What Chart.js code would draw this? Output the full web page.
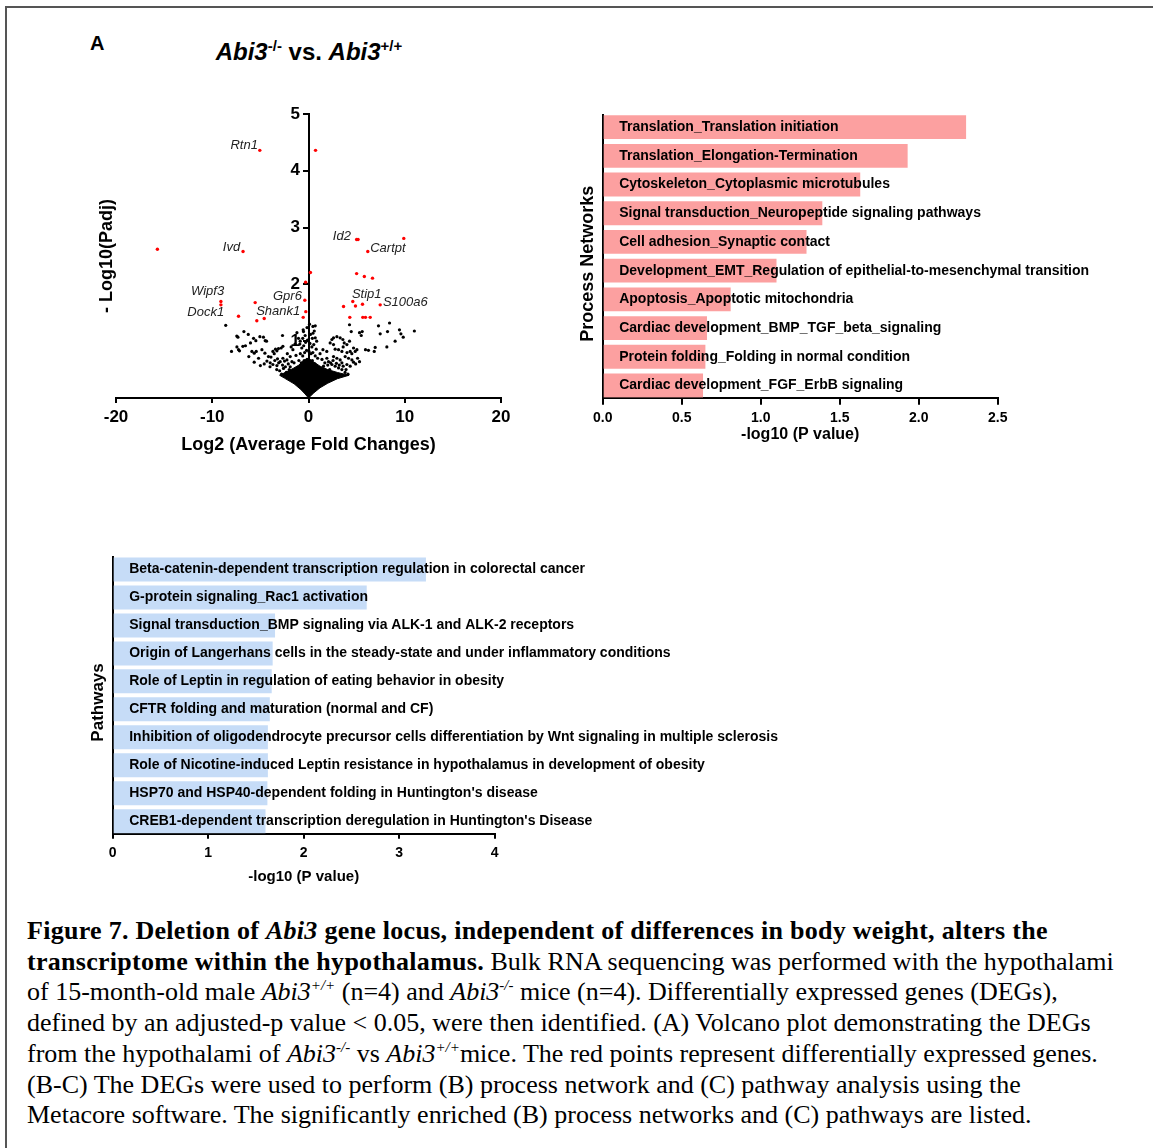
<!DOCTYPE html>
<html>
<head>
<meta charset="utf-8">
<script src="https://cdn.jsdelivr.net/npm/chart.js@4.4.1/dist/chart.umd.min.js"></script>
<style>
  body { margin: 0; background: #fff; }
  #page { position: relative; width: 1153px; height: 1148px; overflow: hidden; background: #fff;
          font-family: Arial, 'Liberation Sans', sans-serif; color: #000; }
  #frame { position: absolute; left: 5px; top: 6px; right: -4px; bottom: -4px;
           border-top: 2px solid #555; border-left: 2px solid #555; }
  .box { position: absolute; }
  #panelA { left: 90px; top: 31px; font-size: 20px; font-weight: bold; line-height: 24px; }
  #volcanoTitle { left: 159px; top: 38px; width: 300px; text-align: center; font-size: 24px;
                  font-weight: bold; line-height: 28px; white-space: nowrap; }
  #volcanoTitle sup { font-size: 15px; line-height: 0; }
  #caption { left: 27px; top: 916px; font-family: 'Liberation Serif', 'Times New Roman', serif;
             font-size: 26px; line-height: 30.7px; white-space: nowrap; }
  #caption b { letter-spacing: 0.28px; }
  #caption sup { font-size: 15px; line-height: 0; }
</style>
</head>
<body>
<div id="page">
  <div id="frame"></div>
  <div class="box" id="panelA">A</div>
  <div class="box" id="volcanoTitle"><i>Abi3</i><sup>-/-</sup> vs. <i>Abi3</i><sup>+/+</sup></div>
  <canvas class="box" id="volcano" width="440" height="380" style="left:80px;top:90px;"></canvas>
  <canvas class="box" id="process" width="570" height="370" style="left:560px;top:90px;"></canvas>
  <canvas class="box" id="pathway" width="720" height="370" style="left:70px;top:530px;"></canvas>
  <div class="box" id="caption"><b>Figure 7. Deletion of <i>Abi3</i> gene locus, independent of differences in body weight, alters the</b><br><b>transcriptome within the hypothalamus.</b> Bulk RNA sequencing was performed with the hypothalami<br>of 15-month-old male <i>Abi3<sup>+/+</sup></i> (n=4) and <i>Abi3<sup>-/-</sup></i> mice (n=4). Differentially expressed genes (DEGs),<br>defined by an adjusted-p value &lt; 0.05, were then identified. (A) Volcano plot demonstrating the DEGs<br>from the hypothalami of <i>Abi3<sup>-/-</sup></i> vs <i>Abi3<sup>+/+</sup></i>mice. The red points represent differentially expressed genes.<br>(B-C) The DEGs were used to perform (B) process network and (C) pathway analysis using the<br>Metacore software. The significantly enriched (B) process networks and (C) pathways are listed.</div>
</div>
<script>
// ---- volcano plot data (log2 fold change, -log10 padj) ----
const volcanoXTicks = [-20, -10, 0, 10, 20];
const volcanoYTicks = [1, 2, 3, 4, 5];

// differentially expressed genes (red)
const degPoints = [
  [-5.06, 4.36], [0.73, 4.36], [-15.7, 2.62], [-6.8, 2.58], [5.0, 2.79], [5.15, 2.79],
  [9.9, 2.81], [6.16, 2.58], [0.2, 2.21], [-0.3, 2.04], [5.0, 2.19], [5.8, 2.14],
  [6.65, 2.11], [-9.1, 1.70], [-9.1, 1.64], [-5.54, 1.68], [-7.27, 1.44], [-5.37, 1.36],
  [-4.6, 1.40], [-0.38, 1.72], [-0.28, 1.52], [-0.55, 1.42], [3.64, 1.61], [4.6, 1.70],
  [4.88, 1.62], [5.61, 1.65], [7.45, 1.64], [4.29, 1.42], [5.64, 1.42], [5.92, 1.42], [6.41, 1.42]
];

// the rest of the genes (black)
const otherPoints = [
  [-8.6, 1.28], [-7.33, 1.07], [-7.45, 1.09], [-6.71, 1.17], [-6.26, 1.12], [-5.71, 1.05],
  [-5.47, 1.01], [-5.05, 1.08], [-4.68, 1.07], [-4.5, 1.01], [-4.36, 1.0], [-2.7, 1.10],
  [-8.0, 0.82], [-7.44, 0.90], [-7.17, 0.83], [-7.27, 0.85], [-6.82, 0.91], [-6.55, 0.92],
  [-6.2, 0.73], [-6.03, 0.97], [-5.88, 0.82], [-5.64, 0.79], [-5.43, 0.82], [-5.64, 0.63],
  [-5.19, 0.70], [-4.84, 0.85], [-4.53, 0.79], [-4.32, 0.65], [-4.16, 0.73], [-3.98, 0.62],
  [-3.70, 0.82], [-3.56, 0.78], [-3.43, 0.86], [-3.28, 0.83], [-3.12, 0.87], [-2.84, 0.88],
  [-2.66, 0.91], [-3.22, 0.69], [-2.94, 0.64], [-2.66, 0.70], [-2.49, 0.65], [-2.24, 0.67],
  [-3.70, 0.59], [-3.28, 0.57], [-1.90, 0.73], [-1.72, 0.64], [-1.62, 0.85], [-1.2, 1.15],
  [-1.04, 1.05], [-0.86, 1.0], [-0.52, 1.17], [-3.0, 0.48], [-2.6, 0.52], [-2.3, 0.45],
  [-1.9, 0.55], [-2.1, 0.6], [-2.8, 0.42], [-1.5, 0.62], [-1.3, 0.75],
  [-3.5, 0.66], [-3.1, 0.62], [-2.7, 0.58], [-2.4, 0.55], [-2.0, 0.5], [-1.7, 0.47],
  [-3.3, 0.5], [-2.2, 0.78], [-1.8, 0.9], [-1.4, 0.95], [-4.0, 0.55], [-4.6, 0.6],
  [-5.0, 0.57], [-3.9, 0.72],
  [4.26, 1.29], [4.44, 1.17], [5.30, 1.15], [5.58, 1.17], [5.48, 1.10], [7.27, 1.27],
  [8.42, 1.32], [7.45, 1.13], [8.21, 1.17], [9.45, 1.20], [9.6, 1.13], [9.84, 1.07],
  [9.0, 1.0], [11.0, 1.18], [8.14, 0.90], [6.93, 0.89], [6.83, 0.82], [5.92, 0.85],
  [6.23, 0.84], [5.30, 0.64], [4.68, 0.88], [4.85, 0.82], [5.03, 0.85], [4.33, 0.82],
  [4.5, 0.78], [3.99, 0.94], [4.26, 1.0], [3.57, 1.03], [3.71, 0.97], [3.29, 1.06],
  [2.95, 1.08], [2.60, 1.06], [2.43, 1.03], [2.25, 0.97], [2.6, 0.94], [2.77, 0.86],
  [3.12, 0.85], [3.47, 0.82], [3.81, 0.73], [4.16, 0.70], [4.51, 0.67], [4.68, 0.63],
  [3.99, 0.59], [4.33, 0.56], [2.6, 0.73], [2.95, 0.70], [3.29, 0.67], [3.47, 0.62],
  [2.43, 0.59], [2.77, 0.56], [3.12, 0.53], [3.47, 0.50], [1.91, 0.70], [2.08, 0.64],
  [1.56, 0.56], [0.46, 1.14], [0.46, 1.26], [0.70, 1.06], [0.70, 1.27], [3.8, 0.45],
  [4.1, 0.42], [2.2, 0.5], [1.8, 0.48],
  [2.3, 0.62], [2.55, 0.66], [2.9, 0.61], [3.2, 0.58], [3.6, 0.56], [3.9, 0.5],
  [2.0, 0.58], [1.7, 0.62], [1.4, 0.68], [1.2, 0.78], [1.5, 0.85], [1.9, 0.82],
  [4.9, 0.6], [5.1, 0.7], [4.0, 0.8], [3.6, 0.9],
  [-0.9, 0.95], [-0.7, 0.88], [-0.5, 0.92], [-0.3, 0.98], [-0.1, 1.02], [0.15, 0.96],
  [0.35, 0.9], [0.55, 0.94], [0.8, 0.86], [-0.85, 0.78], [-0.6, 0.74], [-0.4, 0.8],
  [-0.2, 0.84], [0.05, 0.82], [0.25, 0.78], [0.45, 0.8], [0.7, 0.74], [0.95, 0.7],
  [-1.0, 0.66], [-0.75, 0.62], [-0.45, 0.66], [-0.15, 0.68], [0.1, 0.64], [0.4, 0.66],
  [0.65, 0.6], [-0.35, 1.1], [0.2, 1.12], [-0.6, 1.05], [0.4, 1.05], [-0.15, 1.24],
  [0.1, 1.3], [-0.25, 0.56], [0.3, 0.54], [-0.55, 1.2], [0.85, 1.0], [0.6, 1.18]
];

// outline of the solid mass of overlapping genes near the origin
const coreX = [0, -0.35, -0.8, -1.5, -2.5, -3.0, -2.3, -1.6, -1.0, -0.5, 0, 0.5, 1.2, 2.0, 3.0, 4.2, 3.0, 2.0, 1.2, 0.55, 0];
const coreY = [0, 0.07, 0.15, 0.25, 0.35, 0.40, 0.46, 0.52, 0.58, 0.66, 0.70, 0.64, 0.56, 0.50, 0.45, 0.40, 0.34, 0.26, 0.18, 0.09, 0];

// gene labels, anchored in data space
const geneNames = ['Rtn1', 'Ivd', 'Id2', 'Cartpt', 'Wipf3', 'Dock1', 'Gpr6', 'Shank1', 'Stip1', 'S100a6'];
const geneX = [-5.26, -7.10, 4.41, 6.41, -8.76, -8.76, -0.69, -0.86, 4.51, 7.73];
const geneY = [4.44, 2.66, 2.84, 2.63, 1.875, 1.51, 1.79, 1.53, 1.83, 1.69];
const rightHandLabels = ['Cartpt', 'Stip1', 'S100a6'];

// ---- B: process networks ----
const processNetworks = [
  'Translation_Translation initiation',
  'Translation_Elongation-Termination',
  'Cytoskeleton_Cytoplasmic microtubules',
  'Signal transduction_Neuropeptide signaling pathways',
  'Cell adhesion_Synaptic contact',
  'Development_EMT_Regulation of epithelial-to-mesenchymal transition',
  'Apoptosis_Apoptotic mitochondria',
  'Cardiac development_BMP_TGF_beta_signaling',
  'Protein folding_Folding in normal condition',
  'Cardiac development_FGF_ErbB signaling'
];
const processValues = [2.30, 1.93, 1.63, 1.39, 1.29, 1.10, 0.81, 0.66, 0.65, 0.635];
const processTicks = [0, 0.5, 1.0, 1.5, 2.0, 2.5];

// ---- C: pathways ----
const pathways = [
  'Beta-catenin-dependent transcription regulation in colorectal cancer',
  'G-protein signaling_Rac1 activation',
  'Signal transduction_BMP signaling via ALK-1 and ALK-2 receptors',
  'Origin of Langerhans cells in the steady-state and under inflammatory conditions',
  'Role of Leptin in regulation of eating behavior in obesity',
  'CFTR folding and maturation (normal and CF)',
  'Inhibition of oligodendrocyte precursor cells differentiation by Wnt signaling in multiple sclerosis',
  'Role of Nicotine-induced Leptin resistance in hypothalamus in development of obesity',
  "HSP70 and HSP40-dependent folding in Huntington's disease",
  "CREB1-dependent transcription deregulation in Huntington's Disease"
];
const pathwayValues = [3.28, 2.66, 1.70, 1.675, 1.665, 1.645, 1.625, 1.625, 1.62, 1.60];
const pathwayTicks = [0, 1, 2, 3, 4];

const FONT = "Arial, 'Liberation Sans', sans-serif";
Chart.defaults.font.family = FONT;
Chart.defaults.color = '#000';

function tickMarks(len) {
  return { display: true, drawOnChartArea: false, drawTicks: true, tickLength: len, color: '#000', lineWidth: 2 };
}
const axisBorder = { display: true, color: '#000', width: 2 };

const geneLabelPlugin = {
  id: 'geneLabels',
  afterDatasetsDraw(chart) {
    const { ctx, scales } = chart;
    ctx.save();
    ctx.font = 'italic 13px ' + FONT;
    ctx.fillStyle = '#222';
    ctx.textBaseline = 'middle';
    geneNames.forEach((name, i) => {
      ctx.textAlign = rightHandLabels.includes(name) ? 'left' : 'right';
      ctx.fillText(name, scales.x.getPixelForValue(geneX[i]), scales.y.getPixelForValue(geneY[i]));
    });
    ctx.restore();
  }
};

// A: volcano plot
new Chart(document.getElementById('volcano'), {
  type: 'scatter',
  data: {
    datasets: [
      {
        label: 'dense core',
        type: 'line',
        data: coreX.map((v, i) => ({ x: v, y: coreY[i] })),
        borderColor: '#000',
        backgroundColor: '#000',
        borderWidth: 1,
        pointRadius: 0,
        fill: 'shape',
        tension: 0,
        order: 3
      },
      {
        label: 'not significant',
        data: otherPoints.map(p => ({ x: p[0], y: p[1] })),
        backgroundColor: '#000',
        pointRadius: 1.6,
        borderWidth: 0,
        order: 2
      },
      {
        label: 'DEGs',
        data: degPoints.map(p => ({ x: p[0], y: p[1] })),
        backgroundColor: '#ff0000',
        pointRadius: 1.7,
        borderWidth: 0,
        order: 1
      }
    ]
  },
  options: {
    responsive: false,
    animation: false,
    layout: { padding: { left: 0, right: 19, top: 24, bottom: 0 } },
    plugins: { legend: { display: false }, tooltip: { enabled: false } },
    scales: {
      x: {
        type: 'linear', position: 'bottom', min: -20, max: 20,
        afterBuildTicks: s => { s.ticks = volcanoXTicks.map(v => ({ value: v })); },
        afterFit: s => { s.height = 72; },
        grid: tickMarks(5),
        border: axisBorder,
        ticks: { font: { size: 17, weight: 'bold' }, padding: 4 },
        title: { display: true, text: 'Log2 (Average Fold Changes)', font: { size: 18, weight: 'bold' },
                 padding: { top: 0, bottom: 14.5 } }
      },
      y: {
        // axis crosses at x = 0; the en space keeps the label clear of the tick mark
        type: 'linear', position: { x: 0 }, min: 0, max: 5,
        afterBuildTicks: s => { s.ticks = volcanoYTicks.map(v => ({ value: v })); },
        grid: tickMarks(5),
        border: axisBorder,
        ticks: { font: { size: 17, weight: 'bold' }, callback: v => v + '\u2002' }
      },
      yTitle: {
        type: 'linear', position: 'left', min: 0, max: 5,
        afterFit: s => { s.width = 36; },
        ticks: { display: false },
        grid: { display: false },
        border: { display: false },
        title: { display: true, text: '- Log10(Padj)', font: { size: 18, weight: 'bold' },
                 padding: { top: 16, bottom: 0 } }
      }
    }
  },
  plugins: [geneLabelPlugin]
});

// horizontal bars on a linear index axis so the first and last bars sit flush with the axis ends
function barChart(canvasId, labels, values, ticks, opts) {
  const n = labels.length;
  return new Chart(document.getElementById(canvasId), {
    type: 'bar',
    data: {
      datasets: [{
        data: values.map((v, i) => ({ x: v, y: i })),
        backgroundColor: opts.color,
        borderWidth: 0,
        barPercentage: opts.barPct,
        categoryPercentage: 1
      }]
    },
    options: {
      indexAxis: 'y',
      responsive: false,
      animation: false,
      layout: { padding: opts.padding },
      plugins: { legend: { display: false }, tooltip: { enabled: false } },
      scales: {
        x: {
          type: 'linear', min: 0, max: ticks[ticks.length - 1],
          afterBuildTicks: s => { s.ticks = ticks.map(v => ({ value: v })); },
          afterFit: s => { s.height = opts.xHeight; },
          grid: tickMarks(opts.tickLen),
          border: axisBorder,
          ticks: { font: { size: 14, weight: 'bold' }, padding: opts.tickPad,
                   callback: v => opts.fmt(v) },
          title: { display: true, text: '-log10 (P value)', font: { size: opts.xTitleSize, weight: 'bold' },
                   padding: { top: 0, bottom: opts.xTitlePad } }
        },
        y: {
          type: 'linear', position: 'left', reverse: true, offset: false,
          min: -0.5 + opts.edge, max: n - 0.5 - opts.edge,
          afterBuildTicks: s => { s.ticks = labels.map((l, i) => ({ value: i })); },
          afterFit: s => { s.width = 42.7; },
          grid: { display: false, offset: false },
          border: axisBorder,
          ticks: { mirror: true, padding: 16.5, z: 1, font: { size: 14, weight: 'bold' },
                   callback: v => labels[v] },
          title: { display: true, text: opts.yTitle, font: { size: opts.yTitleSize, weight: 'bold' },
                   padding: { top: opts.yTitlePad, bottom: 0 } }
        }
      }
    }
  });
}

// B: process networks
barChart('process', processNetworks, processValues, processTicks, {
  color: '#fca0a0', barPct: 0.83, edge: 0.0745,
  padding: { left: 0, right: 132.3, top: 22.7, bottom: 0 },
  xHeight: 62.3, tickLen: 7, tickPad: 4.9, fmt: v => v.toFixed(1),
  xTitleSize: 16, xTitlePad: 15.5,
  yTitle: 'Process Networks   ', yTitleSize: 18, yTitlePad: 17.2
});

// C: pathways
barChart('pathway', pathways, pathwayValues, pathwayTicks, {
  color: '#c6dcf7', barPct: 0.858, edge: 0.0535,
  padding: { left: 0, right: 295.3, top: 27, bottom: 0 },
  xHeight: 66.3, tickLen: 5, tickPad: 5.6, fmt: v => String(v),
  xTitleSize: 15, xTitlePad: 14.3,
  yTitle: 'Pathways   ', yTitleSize: 17, yTitlePad: 18.1
});
</script>
</body>
</html>
